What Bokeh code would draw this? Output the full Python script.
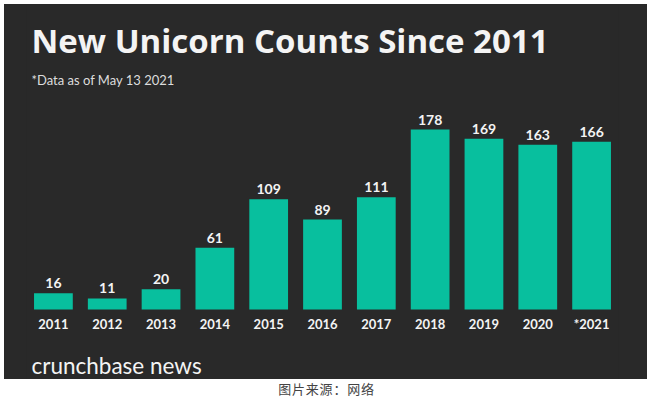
from bokeh.plotting import figure
from bokeh.models import ColumnDataSource, FactorRange, Range1d, Label, Div
from bokeh.layouts import column
from bokeh.core.properties import value
from bokeh.embed import file_html
from bokeh.resources import INLINE

years = ["2011", "2012", "2013", "2014", "2015", "2016", "2017", "2018", "2019", "2020", "*2021"]
counts = [16, 11, 20, 61, 109, 89, 111, 178, 169, 163, 166]
labels = [str(c) for c in counts]

title_text = "New Unicorn Counts Since 2011"
subtitle_text = "*Data as of May 13 2021"
brand_text = "crunchbase news"
caption_text = "图片来源：网络"

BG = "#292929"
BAR = "#08bf9e"
FG = "#f4f4f4"
FONT = "Lato"

src = ColumnDataSource(dict(year=years, count=counts, label=labels,
                            base=[0] * len(years)))

p = figure(width=643, height=375, x_range=FactorRange(factors=years),
           y_range=Range1d(-69.2, 301.7), output_backend="svg", toolbar_location=None,
           min_border_left=22, min_border_right=29, min_border_top=0, min_border_bottom=0,
           margin=(4, 6, 0, 4), styles={"background-color": BG})
p.background_fill_color = BG
p.border_fill_color = BG
p.outline_line_color = None
p.xgrid.visible = False
p.ygrid.visible = False
p.xaxis.visible = False
p.yaxis.visible = False

p.vbar(x="year", top="count", width=0.72, source=src, fill_color=BAR, line_color=None)
p.text(x="year", y="count", text="label", source=src, text_align="center",
       text_baseline="alphabetic", y_offset=-10, text_color=FG,
       text_font=value(FONT), text_font_style="bold", text_font_size="14px")
p.text(x="year", y="base", text="year", source=src, text_align="center",
       text_baseline="alphabetic", y_offset=14, text_color=FG,
       text_font=value(FONT), text_font_style="bold", text_font_size="13px")

p.add_layout(Label(x=5, y=339, x_units="screen", y_units="screen", text=title_text,
                   text_color=FG, text_font="Open Sans", text_font_style="bold",
                   text_font_size="33px", text_baseline="alphabetic"))
p.add_layout(Label(x=5, y=300, x_units="screen", y_units="screen", text=subtitle_text,
                   text_color="#dddddd", text_font=FONT, text_font_size="13px",
                   text_baseline="alphabetic"))
p.add_layout(Label(x=5, y=14, x_units="screen", y_units="screen", text=brand_text,
                   text_color=FG, text_font=FONT, text_font_size="22.5px",
                   text_baseline="alphabetic"))

cap = Div(text=caption_text, width=653, height=19, margin=(0, 0, 0, 0),
          styles={"text-align": "center", "font-family": "Noto Sans CJK SC",
                  "font-size": "13px", "line-height": "19px", "color": "#444444",
                  "letter-spacing": "0.8px", "width": "653px"})

layout = column(p, cap, spacing=0)
open("out.html", "w").write(file_html(layout, INLINE))
